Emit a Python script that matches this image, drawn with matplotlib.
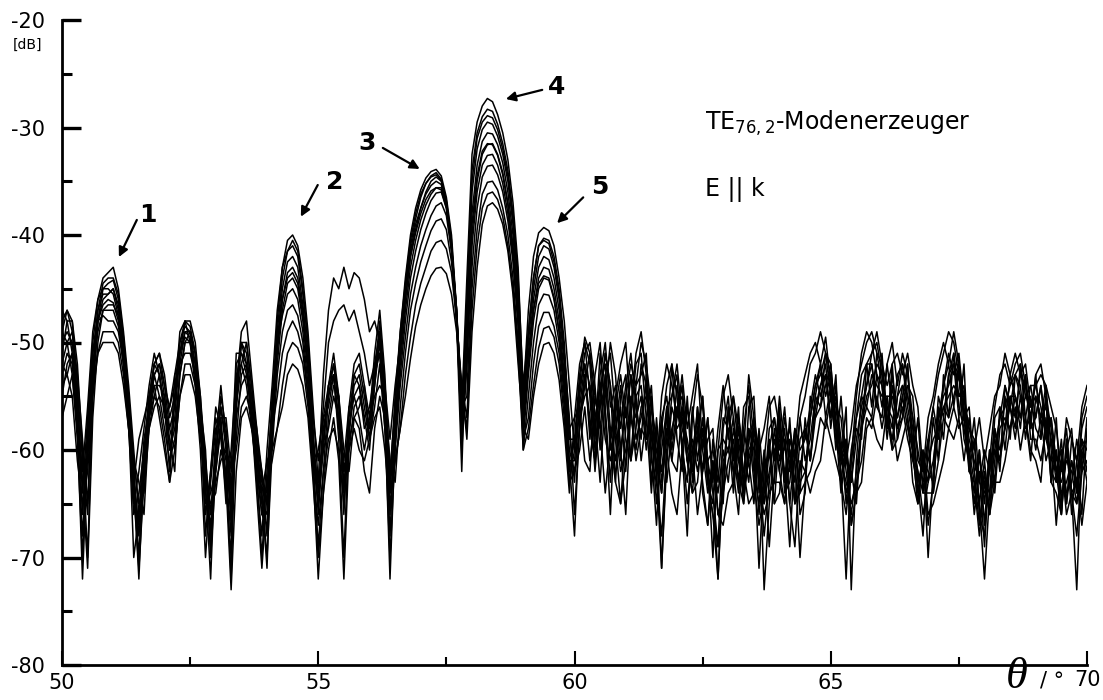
import numpy as np
import matplotlib
matplotlib.use("Agg")
import matplotlib.pyplot as plt
from matplotlib.ticker import MultipleLocator

plt.rcParams['font.family'] = ['DejaVu Sans']
plt.rcParams['mathtext.fontset'] = 'dejavusans'

# angle grid 50.0 ... 70.0 deg, 0.1 deg steps (201 samples)
theta = np.round(np.arange(0, 201) * 0.1 + 50.0, 1)

c1 = [-48, -47, -49, -55, -64, -57, -50, -46, -44, -43.5,
      -43, -45, -49, -54, -60, -66, -61, -55, -52, -51,
      -53, -57, -55, -49, -48, -48.5, -51, -56, -62, -68,
      -61, -55, -58, -64, -54, -49, -48, -53, -58, -63,
      -64, -56, -48, -43, -40.5, -40, -41, -44, -49, -56,
      -63, -60, -54, -51, -55, -64, -56, -52, -51, -54,
      -57, -51, -47, -53, -63, -55, -49, -44, -40, -37.5,
      -35.8, -34.7, -34.1, -33.9, -34.5, -36.5, -40, -47, -56, -44,
      -32.5, -29.5, -28, -27.3, -27.6, -28.8, -30.5, -33, -37, -43,
      -55, -47, -42, -39.8, -39.3, -39.6, -41, -44, -48, -54,
      -60, -54, -49.5, -51, -57, -63, -55, -50, -53, -60,
      -66, -56, -51, -49, -53, -60, -67, -58, -54, -52,
      -55, -60, -68, -57, -53, -56, -61, -70, -60, -55,
      -53, -57, -63, -58, -54, -59, -66, -61, -56, -55,
      -58, -62, -69, -60, -55, -53, -51, -50, -52, -49.5,
      -54, -58, -62, -72, -61, -55, -51, -49, -50, -53,
      -56, -52, -50, -54, -51, -53, -57, -63, -68, -60,
      -56, -53, -51, -49, -50, -53, -57, -60, -66, -62,
      -69, -61, -56, -53, -52, -54, -52, -51, -54, -57,
      -53, -52, -55, -58, -62, -66, -60, -58, -64, -57, -55]

c2 = [-51, -48, -48, -52, -60, -70, -55, -48, -45, -44.5,
      -44.2, -46, -51, -57, -65, -62, -58, -54, -51, -53,
      -56, -62, -53, -50, -48, -50, -54, -60, -70, -63,
      -58, -57, -63, -70, -52, -51, -53, -57, -63, -68,
      -60, -54, -47, -43, -41.5, -41, -42, -45.5, -50, -57,
      -61, -56, -50, -48, -47, -46.5, -48, -47, -49, -51,
      -54, -52, -51, -58, -70, -60, -50, -45, -41, -38.5,
      -36.5, -35.2, -34.5, -34.2, -34.8, -37, -41, -48, -62, -47,
      -34, -30.5, -29, -28.3, -28.5, -29.7, -31.5, -34, -38, -44,
      -54, -49, -44, -41, -40.3, -40.5, -42, -45, -50, -58,
      -57, -52, -50, -55, -62, -56, -51, -54, -59, -65,
      -58, -53, -55, -61, -57, -54, -62, -71, -60, -55,
      -52, -57, -61, -64, -58, -55, -63, -66, -72, -62,
      -57, -55, -60, -65, -59, -57, -62, -68, -63, -58,
      -62, -65, -59, -61, -70, -63, -57, -54, -52, -55,
      -53, -57, -61, -59, -67, -64, -57, -54, -51, -50,
      -53, -57, -60, -55, -52, -55, -58, -64, -61, -67,
      -63, -57, -54, -51, -53, -51, -56, -60, -63, -68,
      -63, -66, -61, -57, -54, -56, -53, -52, -55, -54,
      -57, -54, -59, -57, -62, -60, -65, -59, -61, -66, -58]

c3 = [-53, -51, -52, -58, -68, -60, -52, -48, -46, -45.5,
      -45, -47, -50, -56, -64, -71, -63, -57, -54, -54,
      -55, -59, -62, -52, -49, -49.5, -53, -58, -65, -64,
      -62, -58, -61, -72, -56, -50, -52, -56, -61, -66,
      -67, -59, -50, -45, -42.5, -42, -43, -46.5, -51, -59,
      -64, -57, -56, -53, -57, -63, -59, -53, -54, -57,
      -60, -54, -49, -56, -64, -57, -51, -46, -42, -39.5,
      -37.5, -36, -35, -34.6, -35, -37, -41, -48, -58, -48,
      -36, -32, -30.2, -29.5, -29.7, -30.8, -32.5, -35, -39, -45,
      -57, -50, -45, -42, -41, -41.3, -43, -46, -51, -57,
      -66, -58, -53, -57, -61, -53, -50, -56, -54, -58,
      -54, -51, -56, -59, -53, -58, -60, -64, -56, -61,
      -57, -54, -60, -62, -56, -64, -67, -59, -62, -65,
      -56, -62, -66, -58, -61, -58, -62, -65, -60, -65,
      -58, -63, -60, -65, -62, -58, -61, -55, -56, -51,
      -52, -58, -64, -60, -63, -57, -53, -52, -56, -51,
      -54, -58, -53, -57, -55, -52, -60, -65, -61, -63,
      -57, -61, -53, -57, -51, -55, -54, -61, -65, -60,
      -67, -60, -63, -56, -58, -53, -55, -57, -53, -58,
      -53, -59, -55, -63, -60, -66, -59, -66, -61, -59, -60]

c4 = [-47, -48, -51, -57, -62, -56, -49, -46, -45, -45,
      -45.5, -47.5, -52, -58, -66, -64, -60, -55, -52, -51,
      -54, -56, -54, -51, -49, -49, -51, -55, -61, -66,
      -59, -54, -59, -65, -56, -52, -50, -54, -59, -62,
      -68, -57, -51, -46, -43.5, -43, -44, -47, -52, -60,
      -63, -53, -47, -44, -45, -43, -45, -43.5, -44, -46,
      -49, -48, -50, -54, -59, -54, -50, -45, -41.5, -39,
      -37.5, -36.2, -35.4, -35, -35.3, -37.2, -41, -47.5, -55, -50,
      -38, -33.5, -31.3, -30.5, -30.6, -31.6, -33.3, -36, -40, -46,
      -55, -51, -46, -43, -42, -42.3, -44, -47, -52, -59,
      -59, -53, -50, -52, -59, -51, -56, -63, -55, -52,
      -50, -57, -52, -51, -57, -64, -57, -63, -59, -52,
      -59, -62, -55, -63, -59, -55, -61, -64, -69, -58,
      -55, -61, -56, -64, -56, -55, -64, -61, -69, -62,
      -56, -64, -63, -58, -66, -64, -55, -57, -54, -53,
      -57, -53, -63, -66, -61, -58, -59, -52, -52, -56,
      -51, -58, -52, -59, -57, -52, -61, -57, -64, -59,
      -64, -56, -59, -53, -52, -57, -52, -62, -59, -65,
      -61, -66, -58, -62, -54, -56, -58, -52, -57, -61,
      -55, -57, -54, -60, -67, -61, -58, -64, -68, -62, -61]

c5 = [-50, -49, -50, -56, -66, -58, -51, -47, -45.5, -45.5,
      -45, -46.5, -50, -55, -62, -68, -62, -56, -53, -52,
      -54, -58, -56, -50, -48.5, -49, -52, -57, -64, -67,
      -60, -56, -60, -66, -55, -50, -51, -55, -60, -65,
      -66, -58, -52, -47, -44.5, -44, -45, -48, -53, -61,
      -69, -62, -55, -52, -56, -66, -57, -53, -52, -55,
      -58, -52, -49, -55, -66, -58, -52, -47, -43, -40.5,
      -38.6, -37.2, -36.2, -35.6, -35.6, -37.2, -41, -47, -58, -52,
      -40, -35, -32.5, -31.6, -31.5, -32.5, -34.2, -37, -41, -47,
      -57, -52, -47, -44, -43, -43.2, -45, -48, -53, -60,
      -62, -58, -54, -51, -55, -58, -53, -60, -58, -54,
      -59, -61, -54, -53, -51, -61, -63, -57, -55, -60,
      -56, -55, -61, -60, -57, -62, -57, -63, -72, -61,
      -60, -57, -61, -62, -58, -63, -67, -64, -58, -57,
      -61, -58, -65, -60, -63, -62, -57, -54, -53, -51,
      -55, -56, -57, -62, -66, -62, -58, -55, -54, -52,
      -53, -56, -58, -53, -52, -56, -59, -62, -66, -63,
      -61, -57, -55, -54, -52, -53, -57, -58, -59, -66,
      -68, -61, -60, -57, -56, -54, -53, -55, -57, -54,
      -54, -56, -59, -61, -60, -64, -63, -61, -63, -58, -56]

c6 = [-52, -50, -49, -53, -59, -65, -54, -48, -46.5, -46,
      -46.3, -48, -52, -57, -63, -59, -57, -55, -54, -57,
      -60, -63, -55, -51, -49.5, -50, -53, -58, -66, -62,
      -57, -59, -64, -60, -53, -52, -54, -58, -62, -70,
      -62, -56, -50, -47.5, -45.5, -45, -46, -49, -54, -61,
      -60, -57, -54, -53, -58, -62, -60, -56, -55, -57,
      -56, -53, -51, -57, -72, -59, -53, -48, -44, -41.5,
      -39.5, -38, -36.8, -36.1, -36, -37.5, -41, -47, -60, -52,
      -41, -36, -33.5, -32.6, -32.5, -33.5, -35.2, -38, -42, -48,
      -59, -53, -48, -45, -44, -44.2, -46, -49, -54, -63,
      -60, -54, -52, -59, -53, -50, -57, -66, -56, -53,
      -57, -53, -59, -57, -54, -58, -65, -60, -56, -55,
      -53, -60, -63, -56, -61, -57, -63, -65, -60, -59,
      -60, -62, -57, -60, -63, -57, -61, -65, -62, -59,
      -62, -57, -60, -63, -57, -61, -59, -55, -52, -57,
      -54, -60, -55, -61, -63, -59, -56, -54, -52, -56,
      -57, -52, -56, -58, -57, -54, -55, -61, -62, -59,
      -56, -59, -54, -52, -56, -52, -57, -56, -62, -61,
      -63, -64, -57, -56, -60, -55, -57, -53, -54, -58,
      -57, -54, -58, -57, -61, -60, -64, -63, -59, -62, -57]

c7 = [-55, -52, -51, -57, -63, -61, -53, -49, -47, -47,
      -47, -48.5, -51, -55, -61, -65, -64, -58, -55, -53,
      -56, -60, -58, -53, -50, -50, -52, -56, -60, -70,
      -62, -57, -57, -62, -59, -53, -52, -56, -61, -64,
      -70, -60, -53, -49, -47, -46.5, -47.5, -50, -55, -62,
      -72, -64, -57, -54, -55, -60, -62, -57, -56, -54,
      -59, -56, -52, -58, -62, -60, -54, -49.5, -45.5, -43,
      -41, -39.5, -38.2, -37.3, -37, -38.2, -41.5, -47, -56, -55,
      -43, -37.5, -34.6, -33.6, -33.5, -34.4, -36, -38.7, -42.5, -48.5,
      -60, -55, -50, -46.5, -45.5, -45.6, -47, -50, -55, -61,
      -68, -57, -53, -58, -61, -55, -51, -54, -63, -55,
      -53, -61, -58, -52, -54, -63, -58, -71, -61, -56,
      -58, -57, -59, -62, -56, -60, -64, -61, -66, -64,
      -56, -60, -64, -56, -55, -62, -65, -60, -64, -63,
      -57, -63, -57, -65, -64, -57, -61, -56, -54, -52,
      -58, -54, -61, -56, -73, -61, -55, -52, -51, -49,
      -52, -57, -59, -55, -54, -57, -60, -65, -60, -70,
      -62, -55, -57, -53, -51, -56, -58, -61, -57, -63,
      -64, -62, -59, -61, -55, -59, -53, -54, -59, -55,
      -58, -59, -55, -63, -57, -65, -60, -64, -73, -60, -63]

c8 = [-49, -50, -53, -59, -70, -59, -51, -48, -47.5, -48,
      -48, -49, -52, -57, -70, -66, -59, -56, -52, -53,
      -57, -56, -53, -52, -51, -51, -53, -58, -63, -65,
      -64, -60, -62, -68, -57, -54, -53, -55, -58, -62,
      -65, -58, -55, -51, -49, -48, -49, -51, -55, -61,
      -65, -60, -58, -55, -57, -61, -56, -55, -57, -60,
      -57, -55, -54, -55, -61, -63, -56, -51, -47, -44.5,
      -42.5, -41, -39.6, -38.7, -38.5, -39.5, -42.5, -47.5, -55, -58,
      -45, -39.5, -36.2, -35.1, -35, -35.8, -37.5, -40, -44, -50,
      -59, -57, -52, -48.5, -47.2, -47.2, -48.5, -51, -56, -62,
      -59, -57, -55, -54, -60, -56, -54, -59, -55, -60,
      -56, -61, -55, -54, -59, -58, -62, -57, -63, -58,
      -56, -59, -65, -60, -58, -63, -67, -61, -64, -60,
      -63, -58, -61, -64, -61, -65, -59, -73, -65, -60,
      -59, -63, -60, -65, -59, -58, -61, -57, -56, -54,
      -52, -58, -60, -64, -62, -65, -58, -56, -57, -53,
      -54, -59, -54, -58, -56, -59, -61, -63, -61, -62,
      -63, -58, -56, -57, -55, -53, -59, -61, -64, -60,
      -65, -60, -64, -58, -57, -58, -55, -58, -53, -59,
      -59, -61, -58, -62, -63, -59, -65, -61, -64, -59, -62]

c9 = [-54, -53, -55, -61, -65, -62, -55, -51, -49, -49,
      -49, -50, -53, -58, -63, -67, -62, -58, -56, -55,
      -56, -58, -60, -55, -52, -52, -54, -57, -62, -66,
      -63, -61, -60, -63, -60, -56, -55, -57, -62, -66,
      -63, -61, -58, -54, -51, -50, -50.5, -52, -56, -62,
      -67, -62, -59, -58, -60, -65, -59, -57, -58, -62,
      -64, -58, -55, -57, -64, -61, -58, -53, -49.5, -46.5,
      -44.5, -43, -41.5, -40.7, -40.5, -41.3, -43.5, -48, -54, -57,
      -47, -41, -37.5, -36.2, -36, -36.7, -38.3, -41, -45, -51,
      -60, -58, -54, -50.5, -48.7, -48.5, -49.5, -52, -57, -63,
      -62, -60, -56, -61, -57, -54, -59, -61, -58, -62,
      -60, -57, -60, -56, -55, -59, -61, -64, -58, -61,
      -62, -56, -61, -64, -63, -58, -63, -66, -69, -64,
      -61, -59, -63, -65, -60, -59, -63, -66, -64, -63,
      -63, -65, -61, -59, -64, -63, -62, -60, -57, -58,
      -55, -59, -61, -63, -65, -63, -61, -57, -58, -55,
      -58, -55, -60, -59, -55, -58, -60, -62, -64, -64,
      -64, -61, -57, -58, -56, -58, -57, -62, -63, -65,
      -72, -64, -60, -61, -58, -56, -59, -55, -58, -57,
      -60, -57, -61, -59, -63, -61, -66, -64, -65, -62, -61]

c10 = [-57, -55, -53, -58, -72, -60, -54, -51, -50, -50,
       -50, -51, -54, -58, -62, -70, -60, -57, -55, -56,
       -59, -63, -60, -55, -53, -53, -55, -59, -61, -69,
       -61, -58, -63, -73, -62, -57, -56, -58, -60, -64,
       -61, -60, -58, -56, -53, -52, -52.5, -54, -57, -63,
       -70, -64, -60, -57, -61, -72, -60, -58, -60, -61,
       -59, -57, -56, -60, -65, -61, -58, -55, -51.5, -48.5,
       -46.5, -45, -43.8, -43.1, -43, -43.6, -45.5, -49, -54, -59,
       -49, -43, -39, -37.3, -37, -37.6, -39, -41.5, -45.5, -52,
       -58, -59, -55, -52, -50.2, -50, -51, -53.5, -58, -64,
       -57, -56, -61, -62, -55, -58, -64, -59, -63, -65,
       -61, -56, -61, -58, -59, -55, -63, -68, -60, -64,
       -66, -60, -56, -60, -66, -62, -59, -58, -66, -67,
       -64, -63, -58, -62, -65, -64, -58, -64, -59, -65,
       -64, -59, -65, -69, -61, -62, -64, -62, -61, -57,
       -59, -61, -63, -59, -67, -64, -63, -58, -57, -59,
       -60, -56, -57, -61, -59, -57, -63, -65, -60, -66,
       -65, -63, -61, -58, -59, -57, -61, -57, -62, -67,
       -62, -66, -63, -63, -61, -58, -56, -60, -57, -60,
       -61, -63, -57, -63, -64, -66, -59, -64, -63, -67, -63]

c11 = [-49, -47, -48, -54, -61, -66, -53, -47, -44.5, -44,
       -44, -45.5, -49.5, -55, -63, -72, -61, -56, -53, -52,
       -55, -60, -57, -51, -48, -48, -50, -55, -63, -72,
       -60, -56, -59, -67, -54, -50, -50, -54, -59, -64,
       -71, -57, -49, -44, -41.5, -40.5, -41.5, -45, -50, -58,
       -66, -59, -54, -52, -55, -62, -58, -54, -53, -56,
       -59, -53, -48, -54, -62, -56, -49, -44.5, -40.5, -38,
       -36.2, -35.2, -34.6, -34.4, -34.9, -36.8, -40.5, -47.5, -57, -46,
       -35, -31, -29.5, -28.9, -29.1, -30.2, -32, -34.5, -38.5, -44.5,
       -56, -49, -44, -41, -40.5, -40.8, -42.5, -45.5, -51, -58,
       -63, -55, -51, -50, -54, -60, -53, -51, -57, -61,
       -55, -52, -54, -50, -52, -56, -62, -55, -52, -54,
       -57, -53, -58, -55, -52, -60, -57, -63, -58, -54,
       -59, -55, -58, -60, -53, -57, -60, -58, -55, -61,
       -55, -60, -58, -61, -57, -55, -52, -51, -49, -51,
       -53, -56, -60, -61, -58, -54, -52, -50, -49, -51,
       -52, -54, -52, -51, -53, -51, -54, -56, -62, -57,
       -55, -52, -50, -52, -49, -52, -55, -58, -60, -57,
       -61, -58, -55, -54, -51, -53, -51, -53, -52, -56,
       -54, -53, -54, -56, -58, -62, -57, -59, -61, -56, -54]

c12 = [-52, -53, -51, -55, -63, -71, -57, -50, -47, -46.5,
       -46.5, -47.5, -51, -56, -61, -63, -66, -57, -53, -55,
       -58, -61, -59, -53, -50, -49, -51, -56, -68, -62,
       -56, -58, -65, -62, -51, -51, -52, -57, -64, -71,
       -64, -55, -50, -46, -44, -43.5, -44.5, -47.5, -52, -60,
       -65, -58, -55, -53, -59, -70, -58, -55, -54, -58,
       -57, -54, -50, -56, -68, -57, -51, -46, -42, -39.8,
       -38, -36.7, -35.9, -35.6, -35.8, -37.5, -41.5, -48, -59, -51,
       -39, -34.5, -32.2, -31.5, -31.6, -32.6, -34.4, -37.2, -41.5, -47.5,
       -58, -52, -47, -44.5, -43.8, -44, -45.8, -49, -54, -61,
       -61, -56, -52, -54, -58, -54, -52, -58, -61, -56,
       -62, -55, -57, -55, -60, -56, -59, -62, -57, -59,
       -54, -58, -60, -59, -62, -59, -61, -60, -63, -57,
       -58, -64, -59, -63, -58, -60, -71, -62, -60, -57,
       -60, -56, -62, -58, -60, -59, -56, -53, -55, -53,
       -57, -55, -59, -65, -60, -57, -55, -56, -53, -54,
       -55, -55, -55, -57, -54, -55, -57, -60, -63, -61,
       -59, -58, -56, -55, -54, -55, -55, -59, -61, -63,
       -60, -62, -58, -60, -58, -55, -55, -57, -55, -56,
       -55, -57, -56, -59, -62, -63, -61, -62, -65, -60, -59]

curves = [c1, c2, c3, c4, c5, c6, c7, c8, c9, c10, c11, c12]

y_ticks = [-80, -70, -60, -50, -40, -30, -20]
x_ticks = [50, 55, 60, 65, 70]

labels = ["1", "2", "3", "4", "5"]
label_xy = [(51.68, -38.1), (55.33, -35.1), (55.95, -31.4), (59.66, -26.2), (60.5, -35.5)]
arrow_from = [(51.46, -38.6), (54.99, -35.35), (56.26, -31.9), (59.37, -26.5), (60.17, -36.5)]
arrow_to = [(51.11, -42.05), (54.66, -38.3), (56.98, -33.86), (58.66, -27.35), (59.66, -38.9)]

W, H = 1103, 700
fig = plt.figure(figsize=(W / 100, H / 100), dpi=100)
ax = fig.add_axes([62 / W, 1 - 665 / H, (1087 - 62) / W, (665 - 20) / H])

for c in curves:
    ax.plot(theta[:len(c)], c, color='black', lw=1.1)

ax.set_xlim(50, 70)
ax.set_ylim(-80, -20)
for s in ['top', 'right']:
    ax.spines[s].set_visible(False)
for s in ['left', 'bottom']:
    ax.spines[s].set_linewidth(2.0)

ax.set_yticks(y_ticks)
ax.set_yticklabels([str(v) for v in y_ticks], fontsize=15)
ax.yaxis.set_minor_locator(MultipleLocator(5))
ax.set_xticks(x_ticks)
ax.set_xticklabels(["50", "55", "60", "65", ""], fontsize=15)
ax.xaxis.set_minor_locator(MultipleLocator(2.5))
ax.tick_params(axis='y', which='major', direction='in', length=14, width=2.4, pad=12)
ax.tick_params(axis='y', which='minor', direction='in', length=7, width=2.2)
ax.tick_params(axis='x', which='major', direction='in', length=10, width=1.5, pad=6)
ax.tick_params(axis='x', which='minor', direction='in', length=6, width=1.5)

fig.text(28 / W, 1 - 45 / H, "[dB]", fontsize=10, ha='center', va='center')
fig.text(1087 / W, 1 - 680 / H, "70", fontsize=15, ha='center', va='center')
fig.text(1017 / W, 1 - 677 / H, "θ", fontsize=32, ha='center', va='center',
         family=['Liberation Serif'], style='italic')
fig.text(1052 / W, 1 - 680 / H, "/ °", fontsize=15, ha='center', va='center')

for lab, xy, a0, a1 in zip(labels, label_xy, arrow_from, arrow_to):
    ax.text(xy[0], xy[1], lab, fontsize=18, fontweight='bold', ha='center', va='center')
    ax.annotate("", xy=a1, xytext=a0,
                arrowprops=dict(arrowstyle='-|>', color='black', lw=1.6,
                                mutation_scale=14, shrinkA=0, shrinkB=0))

ax.text(62.55, -29.6, "TE$_{76,2}$-Modenerzeuger", fontsize=17, ha='left', va='center')
ax.text(62.55, -35.8, "E || k", fontsize=17, ha='left', va='center')

fig.savefig("out.png", dpi=100)
